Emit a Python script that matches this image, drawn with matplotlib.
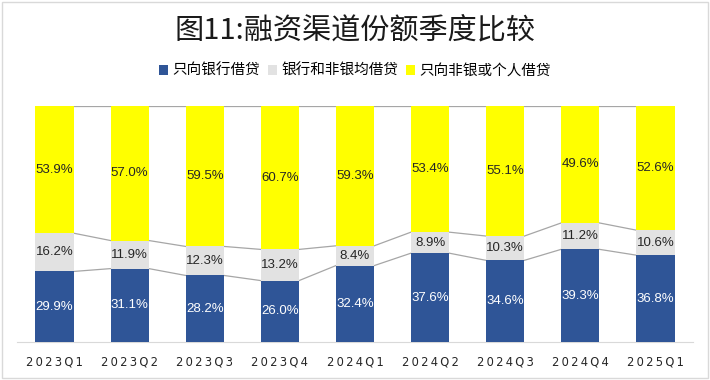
import numpy as np
import matplotlib
matplotlib.use("Agg")
import matplotlib.pyplot as plt
from matplotlib.patches import Rectangle

plt.rcParams['font.family'] = ['Noto Sans CJK SC', 'DejaVu Sans']

quarters = ["2023Q1", "2023Q2", "2023Q3", "2023Q4", "2024Q1",
            "2024Q2", "2024Q3", "2024Q4", "2025Q1"]
bank_only = [29.9, 31.1, 28.2, 26.0, 32.4, 37.6, 34.6, 39.3, 36.8]
bank_and_nonbank = [16.2, 11.9, 12.3, 13.2, 8.4, 8.9, 10.3, 11.2, 10.6]
nonbank_only = [53.9, 57.0, 59.5, 60.7, 59.3, 53.4, 55.1, 49.6, 52.6]
series_names = ["只向银行借贷", "银行和非银均借贷", "只向非银或个人借贷"]
colors = ["#2F5597", "#E2E2E2", "#FFFF00"]
text_colors = ["white", "#262626", "#262626"]

raw = np.array([bank_only, bank_and_nonbank, nonbank_only])
shares = raw / raw.sum(axis=0) * 100  # 100% stacked

fig = plt.figure(figsize=(7.1, 3.8), dpi=100)
ax = fig.add_axes([0.024, 0.10, 0.952, 0.621])

x = np.arange(len(quarters))
w = 0.51
bottom = np.zeros(len(quarters))
for k in range(3):
    ax.bar(x, shares[k], w, bottom=bottom, color=colors[k], label=series_names[k], zorder=3)
    for i in range(len(quarters)):
        ax.text(x[i], bottom[i] + shares[k][i] / 2, f"{raw[k][i]:.1f}%",
                ha="center", va="center", fontsize=9.5, color=text_colors[k],
                family=['Liberation Sans', 'DejaVu Sans'], zorder=4)
    bottom = bottom + shares[k]
    # series lines between neighbouring bars
    for i in range(len(quarters) - 1):
        ax.plot([x[i] + w / 2, x[i + 1] - w / 2], [bottom[i], bottom[i + 1]],
                color="#A6A6A6", lw=0.9, zorder=2)

ax.set_xlim(-0.5, len(quarters) - 0.5)
ax.set_ylim(0, 100)
ax.set_yticks([])
ax.set_xticks(x)
ax.set_xticklabels(["\u2009".join(q) for q in quarters], fontsize=8.3,
                   family=['DejaVu Sans'], color="#262626")
ax.tick_params(axis="x", length=0, pad=10)
for s in ["top", "left", "right"]:
    ax.spines[s].set_visible(False)
ax.spines["bottom"].set_color("#D9D9D9")

fig.text(0.5, 0.921, "图11:融资渠道份额季度比较", ha="center", va="center",
         fontsize=21, color="#1a1a1a")
fig.legend(loc="center", bbox_to_anchor=(0.5, 0.813), ncol=3, frameon=False,
           fontsize=10.5, handlelength=0.65, handleheight=0.65, handletextpad=0.3,
           columnspacing=0.5)

fig.patches.append(Rectangle((0.003, 0.005), 0.994, 0.99, transform=fig.transFigure,
                             fill=False, edgecolor="#D9D9D9", lw=1))

fig.savefig("out.png", dpi=100)
